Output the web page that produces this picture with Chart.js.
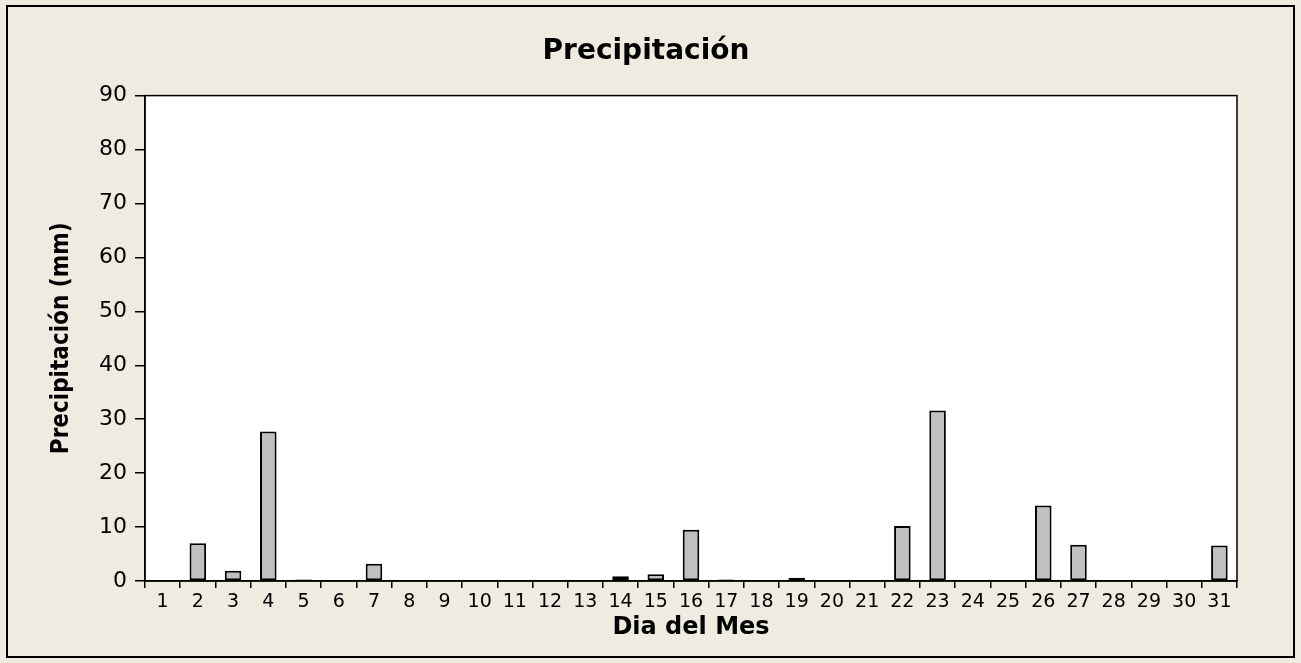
<!DOCTYPE html>
<html>
<head>
<meta charset="utf-8">
<script src="https://cdn.jsdelivr.net/npm/chart.js@4"></script>
<style>
  html, body { margin: 0; padding: 0; background: #efebe1; }
  #wrap { width: 1301px; height: 663px; }
</style>
</head>
<body>
<div id="wrap"><canvas id="rain" width="1301" height="663"></canvas></div>
<script>
const dias = ["1","2","3","4","5","6","7","8","9","10","11","12","13","14","15","16","17","18","19","20","21","22","23","24","25","26","27","28","29","30","31"];
const precipitacion = [0, 7.0, 1.9, 27.7, 0.3, 0, 3.2, 0, 0, 0, 0, 0, 0, 0.9, 1.25, 9.5, 0.3, 0, 0.6, 0, 0, 10.2, 31.6, 0, 0, 14.0, 6.7, 0, 0, 0, 6.6];
const yTicks = [0, 10, 20, 30, 40, 50, 60, 70, 80, 90];

const BG = "#efebe1";
const FONT = "'DejaVu Sans', Verdana, sans-serif";

// beige page, outer frame and white plot area
const frame = {
  id: "frame",
  beforeDraw(chart) {
    const c = chart.ctx;
    const a = chart.chartArea;
    c.save();
    c.fillStyle = BG;
    c.fillRect(0, 0, chart.width, chart.height);
    c.strokeStyle = "#000";
    c.lineWidth = 2;
    c.strokeRect(7, 6, 1287, 651);
    c.fillStyle = "#fff";
    c.fillRect(a.left, a.top, a.right - a.left, a.bottom - a.top);
    c.restore();
  },
  afterDraw(chart) {
    const c = chart.ctx;
    const a = chart.chartArea;
    c.save();
    c.strokeStyle = "#000";
    c.lineWidth = 1.5;
    c.strokeRect(a.left, a.top, a.right - a.left, a.bottom - a.top);
    c.restore();
  }
};

new Chart(document.getElementById("rain"), {
  type: "bar",
  data: {
    labels: dias,
    datasets: [{
      label: "Precipitación",
      data: precipitacion,
      backgroundColor: "#c0c0c0",
      borderColor: "#000",
      borderWidth: 2,
      borderSkipped: false,
      barPercentage: 0.47,
      categoryPercentage: 1.0
    }]
  },
  options: {
    responsive: false,
    animation: false,
    layout: { padding: { left: 55, right: 64, top: 0, bottom: 0 } },
    plugins: {
      legend: { display: false },
      tooltip: { enabled: false },
      title: {
        display: true,
        text: "Precipitación",
        color: "#000",
        font: { family: FONT, size: 28, weight: "bold" },
        padding: { top: 35, bottom: 27 }
      }
    },
    scales: {
      x: {
        afterFit(scale) { scale.height = 82; },
        grid: { drawOnChartArea: false, drawTicks: true, tickLength: 7, color: "#000", lineWidth: 1.5 },
        border: { display: true, color: "#000", width: 1.5 },
        ticks: { color: "#000", font: { family: FONT, size: 19 }, padding: 3, maxRotation: 0, autoSkip: false },
        title: {
          display: true,
          text: "Dia del Mes",
          color: "#000",
          font: { family: FONT, size: 24, weight: "bold" },
          padding: { top: 0, bottom: 21 }
        }
      },
      y: {
        min: 0,
        max: 90,
        afterFit(scale) { scale.width = 90; },
        afterBuildTicks(scale) { scale.ticks = yTicks.map(v => ({ value: v })); },
        grid: { drawOnChartArea: false, drawTicks: true, tickLength: 10, color: "#000", lineWidth: 1.5 },
        border: { display: true, color: "#000", width: 1.5 },
        ticks: { color: "#000", font: { family: FONT, size: 22 }, padding: 8 },
        title: {
          display: true,
          text: "Precipitación (mm)",
          color: "#000",
          font: { family: "'DejaVu Sans Condensed', 'DejaVu Sans', sans-serif", size: 24, weight: "bold" },
          padding: { top: -8, bottom: 0 }
        }
      }
    }
  },
  plugins: [frame]
});
</script>
</body>
</html>
